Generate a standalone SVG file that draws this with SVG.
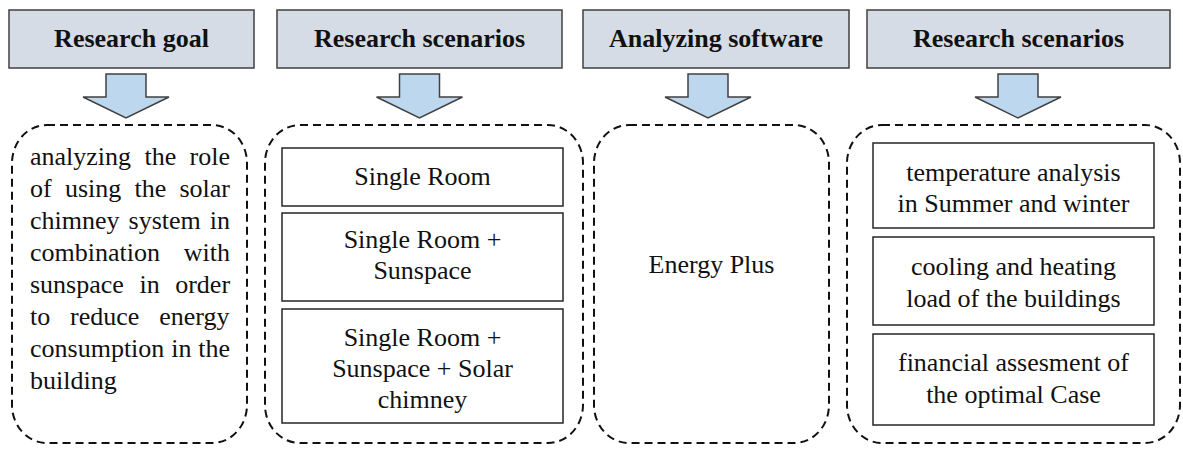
<svg xmlns="http://www.w3.org/2000/svg" width="1183" height="453" viewBox="0 0 1183 453">
<style>
.hdr{fill:#d6dce5;stroke:#404040;stroke-width:1.5}
.ht{font-weight:bold;font-size:26px;fill:#111;text-anchor:middle}
.arr{fill:#bdd7ee;stroke:#404040;stroke-width:1.5;stroke-linejoin:miter}
.dash{fill:none;stroke:#111;stroke-width:2;stroke-dasharray:8 5}
.box{fill:#fff;stroke:#262626;stroke-width:1.5}
.t{font-size:26px;fill:#111}
.c{text-anchor:middle}
</style>
<defs>
<path id="arrowShape" d="M-20,74 H20 V97 H43 L0,118 L-43,97 H-20 Z"/>
</defs>
<g font-family="'Liberation Serif', 'Times New Roman', Times, 'DejaVu Serif', serif">
<g id="hdr-goal"><rect class="hdr" x="9" y="10" width="245" height="58"/><text class="ht" x="131.5" y="47">Research goal</text></g>
<g id="hdr-scenarios"><rect class="hdr" x="277" y="10" width="285" height="58"/><text class="ht" x="419.5" y="47">Research scenarios</text></g>
<g id="hdr-software"><rect class="hdr" x="583" y="10" width="266" height="58"/><text class="ht" x="716" y="47">Analyzing software</text></g>
<g id="hdr-scenarios2"><rect class="hdr" x="867" y="10" width="303" height="58"/><text class="ht" x="1018.5" y="47">Research scenarios</text></g>
<g id="connectors">
<use href="#arrowShape" class="arr" x="126" y="0"/>
<use href="#arrowShape" class="arr" x="419.5" y="0"/>
<use href="#arrowShape" class="arr" x="708" y="0"/>
<use href="#arrowShape" class="arr" x="1018" y="0"/>
</g>
<g id="goal">
<rect class="dash" x="12" y="125" width="235" height="318" rx="35" ry="38"/>
<text class="t" x="30" y="165" word-spacing="6.85">analyzing the role</text>
<text class="t" x="30" y="197" word-spacing="6.73">of using the solar</text>
<text class="t" x="30" y="229" word-spacing="2.5">chimney system in</text>
<text class="t" x="30" y="261" word-spacing="17.3">combination with</text>
<text class="t" x="30" y="293" word-spacing="9.05">sunspace in order</text>
<text class="t" x="30" y="325" word-spacing="13.35">to reduce energy</text>
<text class="t" x="30" y="357" word-spacing="0.35">consumption in the</text>
<text class="t" x="30" y="389">building</text>
</g>
<g id="scenarios">
<rect class="dash" x="265" y="125" width="318" height="318" rx="35" ry="38"/>
<g id="sc1"><rect class="box" x="282" y="148" width="281" height="58"/><text class="t c" x="422.5" y="185">Single Room</text></g>
<g id="sc2"><rect class="box" x="282" y="213" width="281" height="88"/><text class="t c" x="422.5" y="248">Single Room +</text><text class="t c" x="422.5" y="279">Sunspace</text></g>
<g id="sc3"><rect class="box" x="282" y="309" width="281" height="114"/><text class="t c" x="422.5" y="346">Single Room +</text><text class="t c" x="422.5" y="377">Sunspace + Solar</text><text class="t c" x="422.5" y="408">chimney</text></g>
</g>
<g id="software">
<rect class="dash" x="594" y="125" width="235" height="318" rx="35" ry="38"/>
<text class="t c" x="711.5" y="273">Energy Plus</text>
</g>
<g id="analysis">
<rect class="dash" x="847" y="125" width="333" height="318" rx="35" ry="38"/>
<g id="an1"><rect class="box" x="873" y="143" width="281" height="85"/><text class="t c" x="1013.5" y="181">temperature analysis</text><text class="t c" x="1013.5" y="212">in Summer and winter</text></g>
<g id="an2"><rect class="box" x="873" y="237" width="281" height="88"/><text class="t c" x="1013.5" y="275">cooling and heating</text><text class="t c" x="1013.5" y="307">load of the buildings</text></g>
<g id="an3"><rect class="box" x="873" y="334" width="281" height="91"/><text class="t c" x="1013.5" y="371">financial assesment of</text><text class="t c" x="1013.5" y="403">the optimal Case</text></g>
</g>
</g>
</svg>
